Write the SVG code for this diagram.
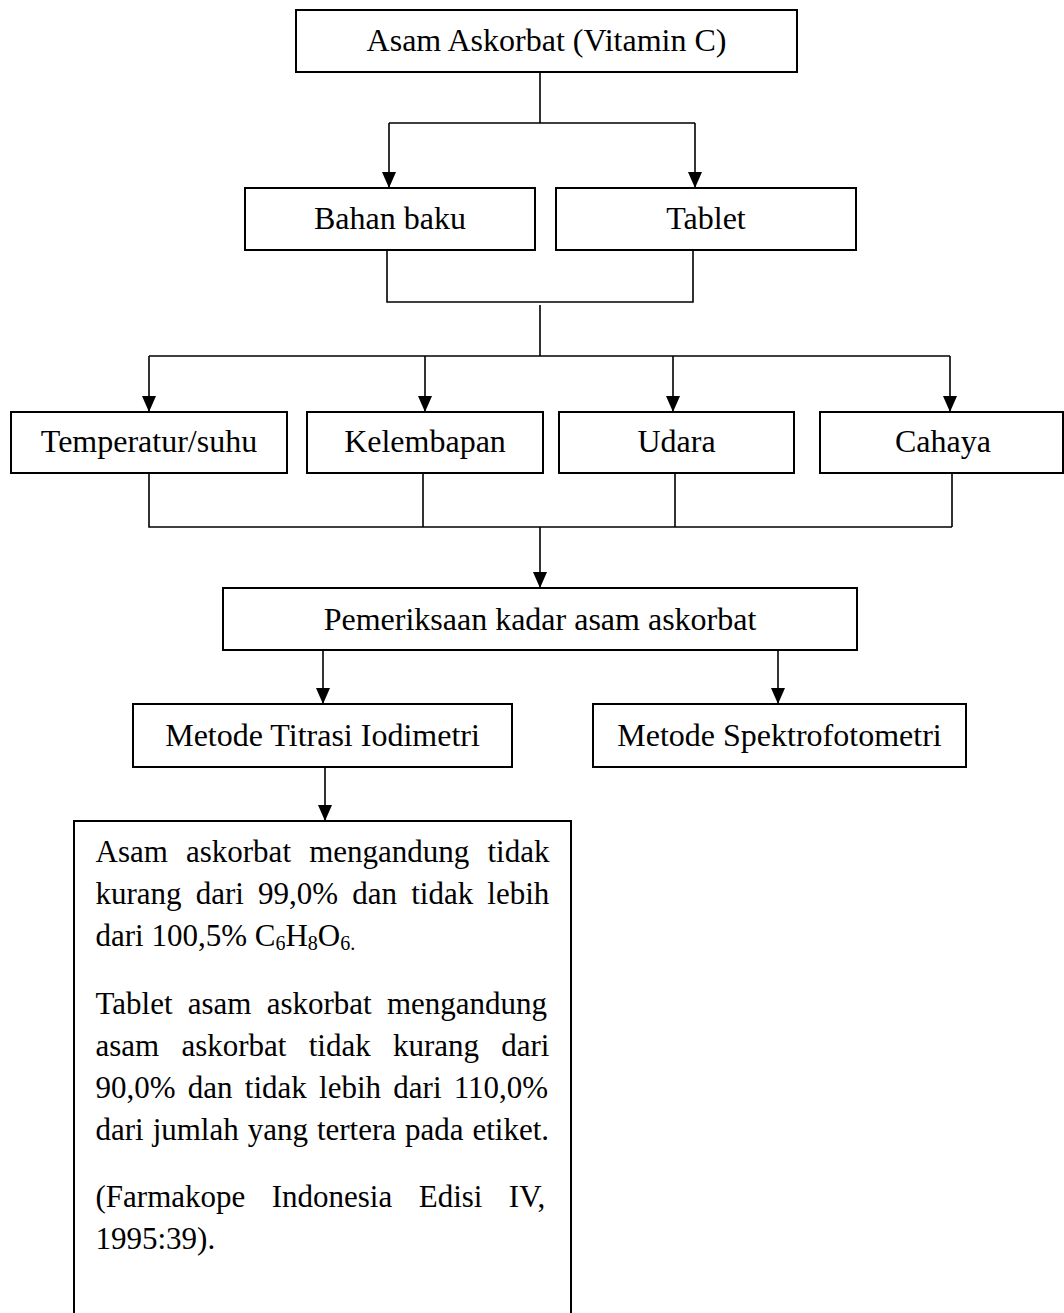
<svg xmlns="http://www.w3.org/2000/svg" width="1064" height="1313" viewBox="0 0 1064 1313">
<style>
.box{fill:#fff;stroke:#000;stroke-width:2}
.lbl{font-family:"Liberation Serif","Times New Roman",serif;font-size:32px;fill:#000;text-anchor:middle}
.para{font-family:"Liberation Serif","Times New Roman",serif;font-size:31px;fill:#000}
.sub{font-size:20px}
.ln{fill:none;stroke:#000;stroke-width:1.6}
</style>
<defs>
<marker id="arr" markerUnits="userSpaceOnUse" markerWidth="16" markerHeight="14" refX="16" refY="7" orient="auto" viewBox="0 0 16 14">
<path d="M0,0 L16,7 L0,14 Z" fill="#000"/>
</marker>
</defs>
<rect width="1064" height="1313" fill="#fff"/>
<g id="connectors">
<path class="ln" d="M540,72 V123 M389,123 H695 M387,250 V302 H693 V250 M540,305 V356 M149,356 H950 M149,473 V527 H952 M423,473 V527 M675,473 V527 M952,473 V527"/>
<line class="ln" x1="389" y1="123" x2="389" y2="188" marker-end="url(#arr)"/>
<line class="ln" x1="695" y1="123" x2="695" y2="188" marker-end="url(#arr)"/>
<line class="ln" x1="149" y1="356" x2="149" y2="412" marker-end="url(#arr)"/>
<line class="ln" x1="425" y1="356" x2="425" y2="412" marker-end="url(#arr)"/>
<line class="ln" x1="673" y1="356" x2="673" y2="412" marker-end="url(#arr)"/>
<line class="ln" x1="950" y1="356" x2="950" y2="412" marker-end="url(#arr)"/>
<line class="ln" x1="540" y1="527" x2="540" y2="588" marker-end="url(#arr)"/>
<line class="ln" x1="323" y1="650" x2="323" y2="704" marker-end="url(#arr)"/>
<line class="ln" x1="778" y1="650" x2="778" y2="704" marker-end="url(#arr)"/>
<line class="ln" x1="325" y1="767" x2="325" y2="821" marker-end="url(#arr)"/>
</g>
<g id="n-vitc"><rect class="box" x="296" y="10" width="501" height="62"/><text class="lbl" x="546.5" y="51">Asam Askorbat (Vitamin C)</text></g>
<g id="n-bahan"><rect class="box" x="245" y="188" width="290" height="62"/><text class="lbl" x="390" y="229">Bahan baku</text></g>
<g id="n-tablet"><rect class="box" x="556" y="188" width="300" height="62"/><text class="lbl" x="706" y="229">Tablet</text></g>
<g id="n-temp"><rect class="box" x="11" y="412" width="276" height="61"/><text class="lbl" x="149" y="452">Temperatur/suhu</text></g>
<g id="n-kelem"><rect class="box" x="307" y="412" width="236" height="61"/><text class="lbl" x="425" y="452">Kelembapan</text></g>
<g id="n-udara"><rect class="box" x="559" y="412" width="235" height="61"/><text class="lbl" x="676.5" y="452">Udara</text></g>
<g id="n-cahaya"><rect class="box" x="820" y="412" width="243" height="61"/><text class="lbl" x="943" y="452">Cahaya</text></g>
<g id="n-periksa"><rect class="box" x="223" y="588" width="634" height="62"/><text class="lbl" x="540" y="630">Pemeriksaan kadar asam askorbat</text></g>
<g id="n-titrasi"><rect class="box" x="133" y="704" width="379" height="63"/><text class="lbl" x="322.5" y="746">Metode Titrasi Iodimetri</text></g>
<g id="n-spektro"><rect class="box" x="593" y="704" width="373" height="63"/><text class="lbl" x="779.5" y="746">Metode Spektrofotometri</text></g>
<g id="n-hasil">
<rect class="box" x="74" y="821" width="497" height="510"/>
<text class="para" x="95.5" y="862" style="word-spacing:10.4px">Asam askorbat mengandung tidak</text>
<text class="para" x="95.5" y="904" style="word-spacing:6.4px">kurang dari 99,0% dan tidak lebih</text>
<text class="para" x="95.5" y="946">dari 100,5% C<tspan class="sub" dy="4">6</tspan><tspan dy="-4">H</tspan><tspan class="sub" dy="4">8</tspan><tspan dy="-4">O</tspan><tspan class="sub" dy="4">6.</tspan></text>
<text class="para" x="95.5" y="1014" style="word-spacing:7.5px">Tablet asam askorbat mengandung</text>
<text class="para" x="95.5" y="1056" style="word-spacing:14.5px">asam askorbat tidak kurang dari</text>
<text class="para" x="95.5" y="1098" style="word-spacing:4.5px">90,0% dan tidak lebih dari 110,0%</text>
<text class="para" x="95.5" y="1140" style="word-spacing:1.2px">dari jumlah yang tertera pada etiket.</text>
<text class="para" x="95.5" y="1207" style="word-spacing:18.7px">(Farmakope Indonesia Edisi IV,</text>
<text class="para" x="95.5" y="1249">1995:39).</text>
</g>
</svg>
